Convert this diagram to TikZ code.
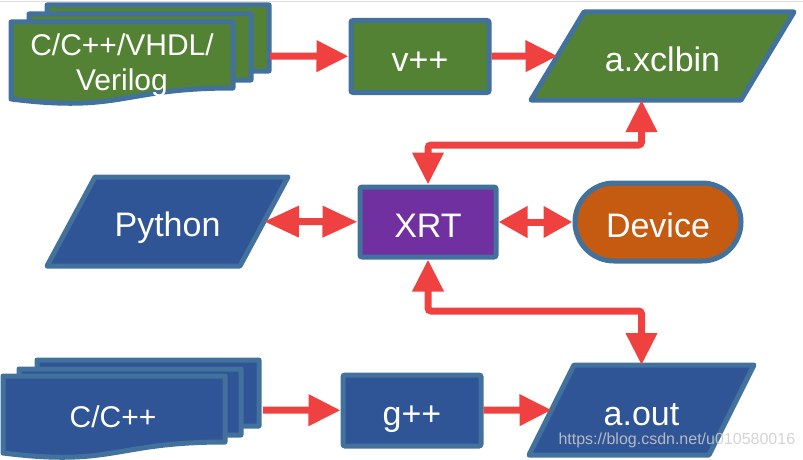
\documentclass[tikz,border=0pt]{standalone}
\usepackage{fontspec}
\setmainfont{Liberation Sans}
\usepackage{xcolor}
\usepackage{tikz}
\usetikzlibrary{arrows.meta,backgrounds}

\definecolor{hwgreen}{RGB}{84,130,53}
\definecolor{swblue}{RGB}{47,85,151}
\definecolor{edgeblue}{RGB}{65,113,156}
\definecolor{flowred}{RGB}{240,65,65}
\definecolor{xrtpurple}{RGB}{112,48,160}
\definecolor{devorange}{RGB}{197,90,17}

% one page of a stacked document (top-left x, top-left y, fill)
\newcommand{\docshape}[3]{%
  \draw[docframe, fill=#3] (#1,#2) -- (#1+222,#2) -- (#1+222,#2+66)
    .. controls (#1+111,#2+66) and (#1+111,#2+91) .. (#1,#2+77) -- cycle;}
% slanted data frame round a node (node name, half slant, fill)
\newcommand{\ioframe}[3]{%
  \draw[docframe, fill=#3] ([xshift=#2]#1.north west) -- ([xshift=#2]#1.north east)
    -- ([xshift=-#2]#1.south east) -- ([xshift=-#2]#1.south west) -- cycle;}

\begin{document}
\begin{tikzpicture}[
  x=1pt, y=-1pt,
  >={Triangle[length=32pt,width=30pt]},
  every node/.style={text=white, font=\fontsize{34}{40}\selectfont},
  docframe/.style={draw=edgeblue, line width=5pt, line join=round},
  boxtext/.style={text height=30pt, text depth=0pt, inner sep=0pt},
  procbox/.style={boxtext, draw=edgeblue, line width=5pt, rounded corners=2pt,
    minimum width=138pt, minimum height=72pt},
  iobox/.style={boxtext, outer sep=0pt},
  doctext/.style={font=\fontsize{30}{35}\selectfont, align=center},
  flow/.style={draw=flowred, line width=7pt, ->},
  biflow/.style={draw=flowred, line width=7pt, <->, rounded corners=3pt},
  watermark/.style={text=black!20, text opacity=0.85, font=\fontsize{16}{18}\selectfont},
]
\useasboundingbox (0,0) rectangle (803,460);

% thin frame line at the top
\draw[black!13, line width=1pt] (0,2) -- (803,2);

%%% Top row: hardware sources -> v++ -> a.xclbin %%%
\foreach \dx/\dy in {47/5, 29/14, 11/22} {
  \docshape{\dx}{\dy}{hwgreen}
}
\node[doctext] (hwsrc) at (122,65) {C/C++/VHDL/\\Verilog};
\coordinate (hwsrc-e) at (270,56);

\node[procbox, fill=hwgreen] (vpp) at (420,56.5) {v++};
\node[iobox, minimum width=210pt, minimum height=88pt] (xclbin) at (662.5,56) {a.xclbin};

\draw[flow] (hwsrc-e) -- (vpp);
\draw[flow] (vpp) -- (xclbin.west);

%%% Middle row: Python <-> XRT <-> Device %%%
\node[iobox, minimum width=193pt, minimum height=89pt] (python) at (167.5,221.5) {Python};
\node[procbox, fill=xrtpurple, minimum width=136pt, minimum height=70pt] (xrt) at (428,222) {XRT};
\node[boxtext, draw=edgeblue, line width=5pt, fill=devorange, rounded corners=39pt,
  minimum width=166pt, minimum height=78pt] (device) at (658,222) {Device};

\draw[biflow, >={Triangle[length=35pt,width=30pt]}] (python.east) -- (xrt);
\draw[biflow, >={Triangle[length=29pt,width=30pt]}] (xrt) -- (device);

%%% Bottom row: software sources -> g++ -> a.out %%%
\foreach \dx/\dy in {37/360, 19/369, 3/376} {
  \docshape{\dx}{\dy}{swblue}
}
\node[doctext] (swsrc) at (113,417) {C/C++};
\coordinate (swsrc-e) at (263,410);

\node[procbox, fill=swblue, minimum height=71pt] (gpp) at (412,410.5) {g++};
\node[iobox, minimum width=180pt, minimum height=90pt] (aout) at (641.5,410) {a.out};

\draw[flow] (swsrc-e) -- (gpp);
\draw[flow] (gpp) -- (aout.west);

% XRT links to the two binaries
\draw[biflow] (xrt.north) |- ([xshift=-21pt]xclbin.south |- 0,145) -- ([xshift=-21pt]xclbin.south);
\draw[biflow] (xrt.south) |- (aout.north |- 0,311) -- (aout.north);

% slanted frames behind the data nodes
\begin{scope}[on background layer]
  \ioframe{xclbin}{26.5pt}{hwgreen}
  \ioframe{python}{24pt}{swblue}
  \ioframe{aout}{22.5pt}{swblue}
\end{scope}

% page watermark
\node[watermark, anchor=west] (mark) at (555,440) {https://blog.csdn.net/u010580016};

\end{tikzpicture}
\end{document}
